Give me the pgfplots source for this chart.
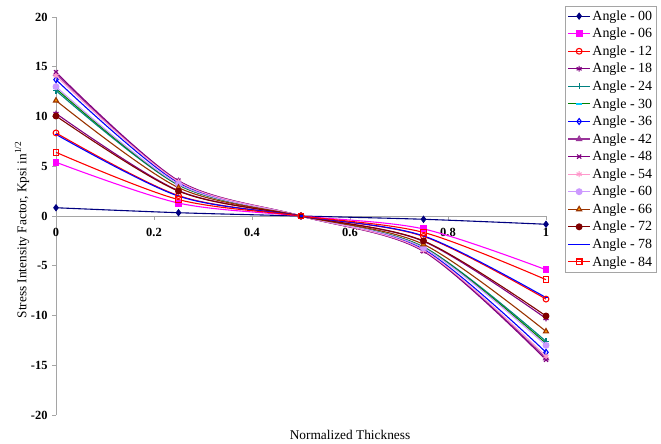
\documentclass[border=0pt]{standalone}
\usepackage{pgfplots}
\pgfplotsset{compat=1.18}
\usepackage{fontspec}
\setmainfont{Liberation Serif}
\definecolor{c00}{RGB}{0,0,128}
\definecolor{c06}{RGB}{255,0,255}
\definecolor{c12}{RGB}{255,0,0}
\definecolor{c18}{RGB}{128,0,128}
\definecolor{c24}{RGB}{0,128,128}
\definecolor{c30}{RGB}{0,128,0}
\definecolor{c30m}{RGB}{0,204,255}
\definecolor{c36}{RGB}{0,0,255}
\definecolor{c42}{RGB}{153,51,153}
\definecolor{c48}{RGB}{128,0,128}
\definecolor{c54}{RGB}{255,153,204}
\definecolor{c60}{RGB}{204,153,255}
\definecolor{c66}{RGB}{153,51,0}
\definecolor{c66f}{RGB}{255,153,0}
\definecolor{c72}{RGB}{128,0,0}
\definecolor{c78}{RGB}{0,0,255}
\definecolor{c84}{RGB}{255,0,0}
\definecolor{axgray}{RGB}{165,165,165}
\begin{document}
\begin{tikzpicture}
\path[use as bounding box] (0,0) rectangle (661bp,444bp);
\begin{axis}[
  at={(56bp,29bp)}, anchor=south west,
  scale only axis, width=490bp, height=398bp,
  xmin=0, xmax=1, ymin=-20, ymax=20,
  xtick={0,0.2,0.4,0.6,0.8,1},
  ytick={-20,-15,-10,-5,0,5,10,15,20},
  axis x line*=middle, axis y line*=left,
  axis line style={draw=axgray,-},
  tick style={draw=axgray, line width=0.6pt},
  tick align=outside, major tick length=4bp,
  hide obscured x ticks=false, hide obscured y ticks=false,
  /pgf/number format/assume math mode=true,
  ticklabel style={font=\fontsize{12.5}{14}\selectfont\bfseries},
  xticklabel style={yshift=-5bp},
  yticklabel style={xshift=-1bp},
  xlabel={Normalized Thickness},
  ylabel={Stress Intensity Factor, Kpsi in\textsuperscript{1/2}},
  label style={font=\fontsize{13.4}{15}\selectfont},
  xlabel style={at={(axis description cs:0.6,-0.05)}, anchor=center},
  ylabel style={at={(axis description cs:-0.069,0.465)}, anchor=center, rotate=0},
  clip=false,
  every axis plot/.append style={line width=1.1pt, smooth, tension=0.5, mark size=2.9bp},
  legend style={at={(axis description cs:1.039,1.028)}, anchor=north west,
    draw=axgray, font=\fontsize{14}{15}\selectfont, cells={anchor=west},
    row sep=2.4bp, inner sep=2.5bp},
  legend image code/.code={\draw[mark repeat=2,mark phase=2,#1] plot coordinates {(0cm,0cm) (0.38cm,0cm) (0.76cm,0cm)};},
]
\addplot[c00, mark=diamond*, mark options={fill=c00}] coordinates {(0,0.83) (0.25,0.33) (0.5,0) (0.75,-0.33) (1,-0.83)};
\addlegendentry{Angle - 00}
\addplot[c06, mark=square*, mark options={fill=c06}] coordinates {(0,5.4) (0.25,1.3) (0.5,0) (0.75,-1.3) (1,-5.4)};
\addlegendentry{Angle - 06}
\addplot[c12, mark=o, mark options={fill=white}] coordinates {(0,8.35) (0.25,2.05) (0.5,0) (0.75,-2.05) (1,-8.35)};
\addlegendentry{Angle - 12}
\addplot[c18, mark=asterisk] coordinates {(0,10.3) (0.25,2.55) (0.5,0) (0.75,-2.55) (1,-10.3)};
\addlegendentry{Angle - 18}
\addplot[c24, mark=+] coordinates {(0,12.6) (0.25,3.1) (0.5,0) (0.75,-3.1) (1,-12.6)};
\addlegendentry{Angle - 24}
\addplot[c30, mark=-, mark options={draw=c30m, line width=1.4pt}] coordinates {(0,12.8) (0.25,3.15) (0.5,0) (0.75,-3.15) (1,-12.8)};
\addlegendentry{Angle - 30}
\addplot[c36, mark=diamond, mark options={fill=white}] coordinates {(0,13.7) (0.25,3.35) (0.5,0) (0.75,-3.35) (1,-13.7)};
\addlegendentry{Angle - 36}
\addplot[c42, mark=triangle, mark options={fill=white}] coordinates {(0,14.3) (0.25,3.5) (0.5,0) (0.75,-3.5) (1,-14.3)};
\addlegendentry{Angle - 42}
\addplot[c48, mark=x] coordinates {(0,14.45) (0.25,3.55) (0.5,0) (0.75,-3.55) (1,-14.45)};
\addlegendentry{Angle - 48}
\addplot[c54, mark=asterisk] coordinates {(0,14.1) (0.25,3.45) (0.5,0) (0.75,-3.45) (1,-14.1)};
\addlegendentry{Angle - 54}
\addplot[c60, mark=*, mark options={fill=c60}] coordinates {(0,13.0) (0.25,3.2) (0.5,0) (0.75,-3.2) (1,-13.0)};
\addlegendentry{Angle - 60}
\addplot[c66, mark=triangle*, mark options={fill=c66f}] coordinates {(0,11.6) (0.25,2.85) (0.5,0) (0.75,-2.85) (1,-11.6)};
\addlegendentry{Angle - 66}
\addplot[c72, mark=*, mark options={fill=c72}] coordinates {(0,10.05) (0.25,2.5) (0.5,0) (0.75,-2.5) (1,-10.05)};
\addlegendentry{Angle - 72}
\addplot[c78, mark=-, mark size=1.5bp] coordinates {(0,8.2) (0.25,2.0) (0.5,0) (0.75,-2.0) (1,-8.2)};
\addlegendentry{Angle - 78}
\addplot[c84, mark=square, mark options={fill=white}] coordinates {(0,6.4) (0.25,1.65) (0.5,0) (0.75,-1.65) (1,-6.4)};
\addlegendentry{Angle - 84}
\end{axis}
\end{tikzpicture}
\end{document}
